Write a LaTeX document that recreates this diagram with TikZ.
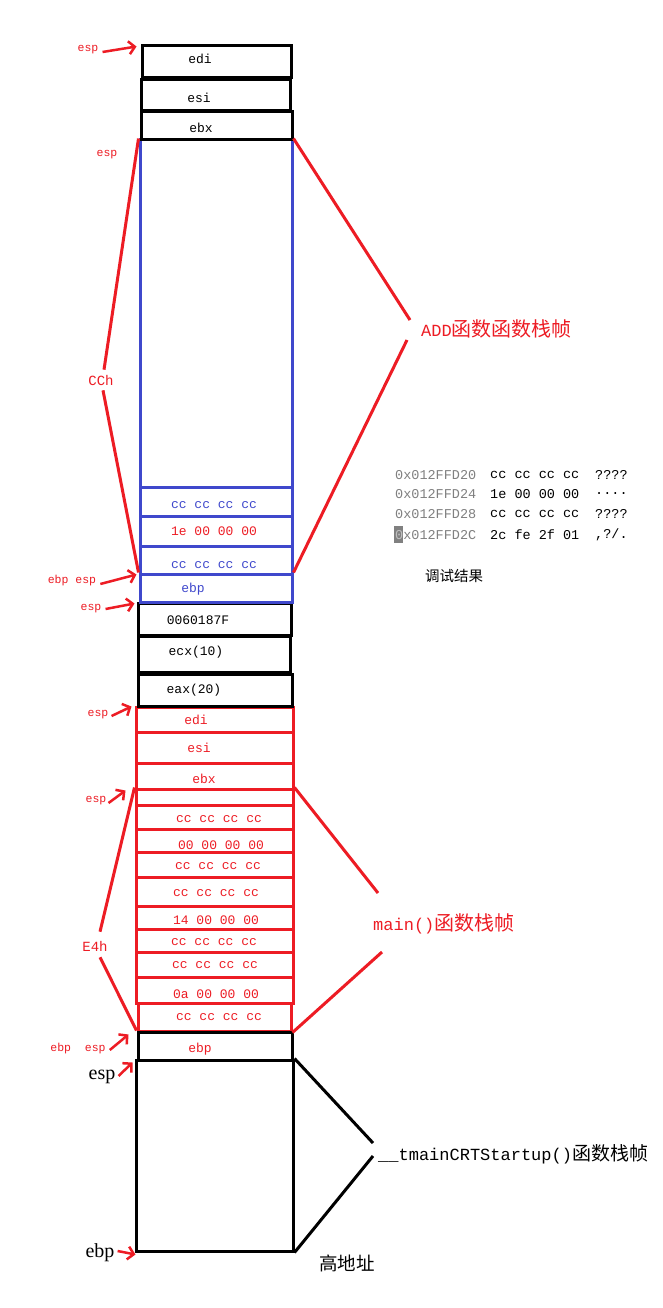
\documentclass[tikz,border=0pt]{standalone}
\usepackage{fontspec}
\setmainfont{Liberation Serif}
\newfontfamily\mono{Liberation Mono}
\newfontfamily\cjk{Noto Sans CJK SC}
\usetikzlibrary{fit,arrows.meta}
\definecolor{redC}{RGB}{237,28,36}
\definecolor{blueC}{RGB}{63,72,204}
\definecolor{grayC}{RGB}{128,128,128}
\tikzset{
 cellK/.style={draw=black,line width=3pt,inner sep=0pt},
 cellB/.style={draw=blueC,line width=3pt,inner sep=0pt},
 cellR/.style={draw=redC,line width=3pt,inner sep=0pt},
 txt/.style={inner sep=0pt,font=\mono\fontsize{13}{14}\selectfont},
 lbl/.style={inner sep=0pt,text=redC,font=\mono\fontsize{11.5}{13}\selectfont},
 lblbig/.style={inner sep=0pt,text=redC,font=\mono\fontsize{14}{16}\selectfont},
 lblK/.style={inner sep=0pt,text=black,font=\fontsize{20}{22}\selectfont},
 big/.style={inner sep=0pt,anchor=west,font=\fontsize{17}{20}\selectfont},
 arr/.style={draw=redC,line width=2.5pt,-{Straight Barb[length=6pt,width=13pt]}},
 brR/.style={draw=redC,line width=3pt},
 brK/.style={draw=black,line width=3pt},
 dump/.style={inner sep=0pt,anchor=west,font=\mono\fontsize{13.5}{15}\selectfont},
}
\begin{document}
\begin{tikzpicture}[x=1pt,y=-1pt]
\useasboundingbox[fill=white] (0,0) rectangle (663,1308);
% ---- red main() frame cells
\node[cellR,fit={(136,707)(293,732)}] (r1) {};
\node[cellR,fit={(136,732)(293,763)}] (r2) {};
\node[cellR,fit={(136,763)(293,789)}] (r3) {};
\node[cellR,fit={(136,789)(293,805)}] (r4) {};
\node[cellR,fit={(136,805)(293,829)}] (r5) {};
\node[cellR,fit={(136,829)(293,852)}] (r6) {};
\node[cellR,fit={(136,852)(293,877)}] (r7) {};
\node[cellR,fit={(136,877)(293,906)}] (r8) {};
\node[cellR,fit={(136,906)(293,929)}] (r9) {};
\node[cellR,fit={(136,929)(293,952)}] (r10) {};
\node[cellR,fit={(136,952)(293,977)}] (r11) {};
\node[cellR,fit={(136,977)(293,1003)}] (r12) {};
\node[cellR,fit={(138,1003)(291,1031)}] (r13) {};
% ---- bottom black
\node[cellK,fit={(138,1032)(292,1060)}] (k1) {};
\node[cellK,fit={(136,1060)(293,1251)}] (k2) {};
% ---- middle black
\node[cellK,fit={(138,603)(291,635)}] (m1) {};
\node[cellK,fit={(138,636)(290,672)}] (m2) {};
\node[cellK,fit={(138,674)(292,706)}] (m3) {};
% ---- blue ADD frame
\node[cellB,fit={(140,140)(292,487)}] (addbig) {};
\node[cellB,fit={(140,487)(292,516)}] (a1) {};
\node[cellB,fit={(140,516)(292,546)}] (a2) {};
\node[cellB,fit={(140,546)(292,574)}] (a3) {};
\node[cellB,fit={(140,574)(292,602)}] (a4) {};
% ---- top black
\node[cellK,fit={(142,46)(291,78)}] (t1) {};
\node[cellK,fit={(141,80)(290,111)}] (t2) {};
\node[cellK,fit={(141,112)(292,140)}] (t3) {};
% ---- cell texts
\node[txt] (tx1) at (200,59) {edi};
\node[txt] (tx2) at (199,98) {esi};
\node[txt] (tx3) at (201,128) {ebx};
\node[txt,text=blueC] (bx1) at (214,505) {cc cc cc cc};
\node[txt,text=redC] (bx2) at (214,531) {1e 00 00 00};
\node[txt,text=blueC] (bx3) at (214,565) {cc cc cc cc};
\node[txt,text=blueC] (bx4) at (193,589) {ebp};
\node[txt] (mx1) at (198,620) {0060187F};
\node[txt] (mx2) at (196,652) {ecx(10)};
\node[txt] (mx3) at (194,690) {eax(20)};
\node[txt,text=redC] (rx1) at (196,720) {edi};
\node[txt,text=redC] (rx2) at (199,748) {esi};
\node[txt,text=redC] (rx3) at (204,779) {ebx};
\node[txt,text=redC] (rx5) at (219,819) {cc cc cc cc};
\node[txt,text=redC] (rx6) at (221,845) {00 00 00 00};
\node[txt,text=redC] (rx7) at (218,866) {cc cc cc cc};
\node[txt,text=redC] (rx8) at (216,893) {cc cc cc cc};
\node[txt,text=redC] (rx9) at (216,920) {14 00 00 00};
\node[txt,text=redC] (rx10) at (214,942) {cc cc cc cc};
\node[txt,text=redC] (rx11) at (215,965) {cc cc cc cc};
\node[txt,text=redC] (rx12) at (216,994) {0a 00 00 00};
\node[txt,text=redC] (rx13) at (219,1017) {cc cc cc cc};
\node[txt,text=redC] (kx1) at (200,1049) {ebp};
% ---- left labels and arrows
\node[lbl] (l1) at (88,50) {esp};
\draw[arr] ([shift={(4,2)}]l1.east) -- ([shift={(-4,2)}]t1.north west);
\node[lbl] (l2) at (107,155) {esp};
\node[lblbig] (cch) at (101,380) {CCh};
\node[lbl] (l3) at (72,581) {ebp esp};
\draw[arr] ([shift={(4,3)}]l3.east) -- ([shift={(-2,2)}]a4.north west);
\node[lbl] (l4) at (91,609) {esp};
\draw[arr] ([shift={(4,0)}]l4.east) -- ([shift={(-2,2)}]m1.north west);
\node[lbl] (l5) at (98,715) {esp};
\draw[arr] ([shift={(3,1)}]l5.east) -- ([shift={(-3,1)}]r1.north west);
\node[lbl] (l6) at (96,801) {esp};
\draw[arr] ([shift={(2,2)}]l6.east) -- ([shift={(-9,3)}]r4.north west);
\node[lblbig] (e4h) at (95,946) {E4h};
\node[lbl] (l7) at (78,1049) {ebp\ \ esp};
\draw[arr] ([shift={(4,1)}]l7.east) -- ([shift={(-8,4)}]k1.north west);
\node[lblK] (l8) at (102,1077) {esp};
\draw[arr] ([shift={(3,-1)}]l8.east) -- ([shift={(-2,4)}]k2.north west);
\node[lblK] (l9) at (100,1253) {ebp};
\draw[arr] ([shift={(3,-2)}]l9.east) -- ([shift={(1,2)}]k2.south west);
% ---- braces
\node[big,text=redC] (addl) at (421,329) {{\mono ADD}{\cjk\fontsize{20}{20}\selectfont 函数函数栈帧}};
\draw[brR] (addbig.north west) -- ([shift={(3,-5)}]cch.north);
\draw[brR] ([shift={(2,5)}]cch.south) -- (a4.north west);
\draw[brR] (addbig.north east) -- ([shift={(-11,-9)}]addl.west);
\draw[brR] ([shift={(-14,11)}]addl.west) -- (a4.north east);
\node[big,text=redC] (mainl) at (373,924) {{\mono main()}{\cjk\fontsize{20}{20}\selectfont 函数栈帧}};
\draw[brR] (r4.north west) -- ([shift={(5,-9)}]e4h.north);
\draw[brR] ([shift={(5,6)}]e4h.south) -- (k1.north west);
\draw[brR] (r4.north east) -- ([shift={(5,-31)}]mainl.west);
\draw[brR] ([shift={(9,28)}]mainl.west) -- (r13.south east);
\node[big,text=black] (tmain) at (378,1154) {{\mono \_\_tmainCRTStartup()}{\cjk\fontsize{19}{20}\selectfont 函数栈帧}};
\draw[brK] (k2.north east) -- ([shift={(-5,-11)}]tmain.west);
\draw[brK] ([shift={(-5,2)}]tmain.west) -- (k2.south east);
\node[inner sep=0pt,font=\cjk\fontsize{18.5}{20}\selectfont] (gaddr) at (347,1263) {高地址};
% ---- memory dump
\fill[grayC] (394,526) rectangle (403,543);
\node[dump,text=grayC] (d1a) at (395,475) {0x012FFD20};
\node[dump] (d1b) at (490,475) {cc cc cc cc};
\node[dump] (d1c) at (595,475) {????};
\node[dump,text=grayC] (d2a) at (395,494) {0x012FFD24};
\node[dump] (d2b) at (490,494) {1e 00 00 00};
\node[dump] (d2c) at (595,494) {....};
\node[dump,text=grayC] (d3a) at (395,514) {0x012FFD28};
\node[dump] (d3b) at (490,514) {cc cc cc cc};
\node[dump] (d3c) at (595,514) {????};
\node[dump,text=grayC] (d4a) at (395,535) {\textcolor{lightgray}{0}x012FFD2C};
\node[dump] (d4b) at (490,535) {2c fe 2f 01};
\node[dump] (d4c) at (595,535) {,?/.};
\node[inner sep=0pt,font=\cjk\fontsize{14.5}{16}\selectfont] (dbg) at (454,576) {调试结果};
\end{tikzpicture}
\end{document}
